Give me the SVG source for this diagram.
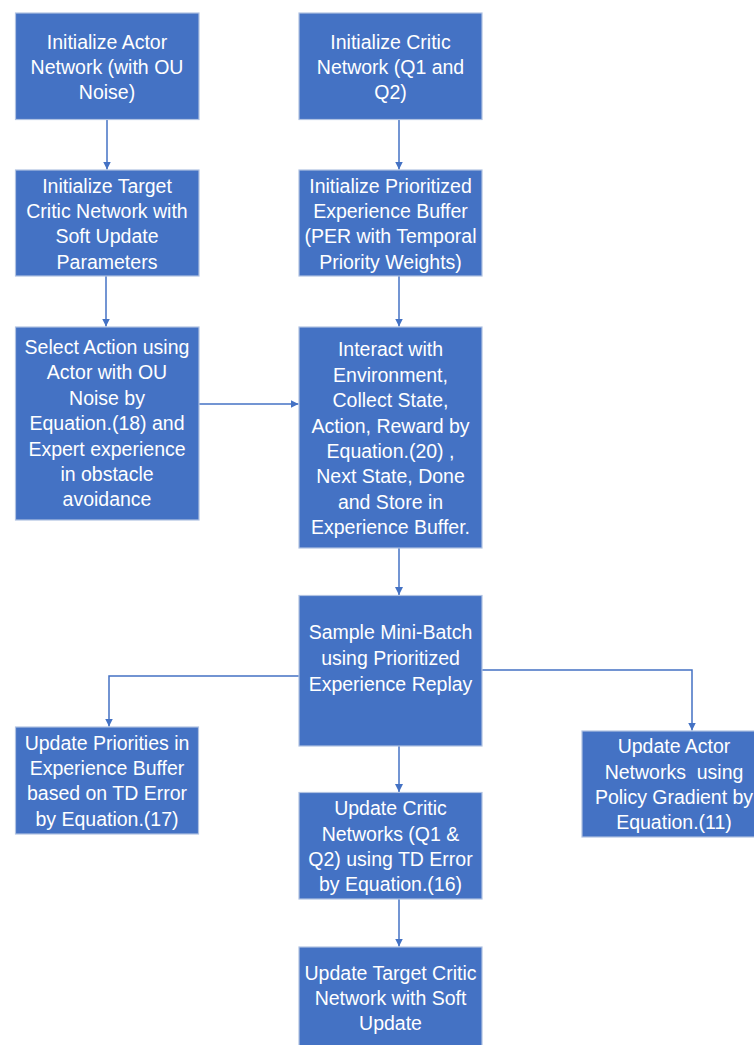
<svg xmlns="http://www.w3.org/2000/svg" width="754" height="1045" viewBox="0 0 754 1045">
<defs>
<style>
.box{fill:#4472C4;stroke:#B0C2E2;stroke-width:1.2}
.t{font-family:"Liberation Sans",Arial,sans-serif;font-size:19.5px;fill:#FFFFFF;text-anchor:middle}
.c{fill:none;stroke:#4472C4;stroke-width:1.5}
</style>
<marker id="ah" viewBox="0 0 10 10" refX="10" refY="5" markerWidth="8" markerHeight="8" markerUnits="userSpaceOnUse" orient="auto">
<path d="M0,0 L10,5 L0,10 z" fill="#4472C4"/>
</marker>
</defs>
<rect width="754" height="1045" fill="#FFFFFF"/>
<g id="connectors">
<line class="c" x1="107" y1="119.5" x2="107" y2="169.5" marker-end="url(#ah)"/>
<line class="c" x1="399" y1="119.5" x2="399" y2="169.5" marker-end="url(#ah)"/>
<line class="c" x1="106" y1="276" x2="106" y2="326.5" marker-end="url(#ah)"/>
<line class="c" x1="399" y1="276" x2="399" y2="326.5" marker-end="url(#ah)"/>
<line class="c" x1="199" y1="404" x2="298.5" y2="404" marker-end="url(#ah)"/>
<line class="c" x1="399" y1="548" x2="399" y2="595" marker-end="url(#ah)"/>
<polyline class="c" points="299,676 109,676 109,726.5" marker-end="url(#ah)"/>
<polyline class="c" points="482,670 692,670 692,730.5" marker-end="url(#ah)"/>
<line class="c" x1="399" y1="746" x2="399" y2="792" marker-end="url(#ah)"/>
<line class="c" x1="399" y1="899" x2="399" y2="946.5" marker-end="url(#ah)"/>
</g>
<g id="n1">
<rect class="box" x="15.5" y="13" width="183.5" height="106.5"/>
<text class="t"><tspan x="107" y="49">Initialize Actor</tspan><tspan x="107" y="74">Network (with OU</tspan><tspan x="107" y="99">Noise)</tspan></text>
</g>
<g id="n2">
<rect class="box" x="299" y="13" width="183" height="106.5"/>
<text class="t"><tspan x="390.5" y="49">Initialize Critic</tspan><tspan x="390.5" y="74">Network (Q1 and</tspan><tspan x="390.5" y="99">Q2)</tspan></text>
</g>
<g id="n3">
<rect class="box" x="15.5" y="170" width="183.5" height="106"/>
<text class="t"><tspan x="107" y="193">Initialize Target</tspan><tspan x="107" y="218">Critic Network with</tspan><tspan x="107" y="243">Soft Update</tspan><tspan x="107" y="269">Parameters</tspan></text>
</g>
<g id="n4">
<rect class="box" x="299" y="170" width="183" height="106"/>
<text class="t"><tspan x="390.5" y="193">Initialize Prioritized</tspan><tspan x="390.5" y="218">Experience Buffer</tspan><tspan x="390.5" y="243">(PER with Temporal</tspan><tspan x="390.5" y="269">Priority Weights)</tspan></text>
</g>
<g id="n5">
<rect class="box" x="15.5" y="327" width="183.5" height="193"/>
<text class="t"><tspan x="107" y="354">Select Action using</tspan><tspan x="107" y="379">Actor with OU</tspan><tspan x="107" y="405">Noise by</tspan><tspan x="107" y="430">Equation.(18) and</tspan><tspan x="107" y="456">Expert experience</tspan><tspan x="107" y="481">in obstacle</tspan><tspan x="107" y="506">avoidance</tspan></text>
</g>
<g id="n6">
<rect class="box" x="299" y="327" width="183" height="221"/>
<text class="t"><tspan x="390.5" y="356">Interact with</tspan><tspan x="390.5" y="382">Environment,</tspan><tspan x="390.5" y="407">Collect State,</tspan><tspan x="390.5" y="433">Action, Reward by</tspan><tspan x="390.5" y="458">Equation.(20) ,</tspan><tspan x="390.5" y="483">Next State, Done</tspan><tspan x="390.5" y="509">and Store in</tspan><tspan x="390.5" y="534">Experience Buffer.</tspan></text>
</g>
<g id="n7">
<rect class="box" x="299" y="595.5" width="183" height="150.5"/>
<text class="t"><tspan x="390.5" y="639">Sample Mini-Batch</tspan><tspan x="390.5" y="665">using Prioritized</tspan><tspan x="390.5" y="691">Experience Replay</tspan></text>
</g>
<g id="n8">
<rect class="box" x="15.5" y="727" width="183" height="107"/>
<text class="t"><tspan x="107" y="750">Update Priorities in</tspan><tspan x="107" y="775">Experience Buffer</tspan><tspan x="107" y="800">based on TD Error</tspan><tspan x="107" y="826">by Equation.(17)</tspan></text>
</g>
<g id="n9">
<rect class="box" x="299" y="792.5" width="183" height="106.5"/>
<text class="t"><tspan x="390.5" y="815">Update Critic</tspan><tspan x="390.5" y="841">Networks (Q1 &amp;</tspan><tspan x="390.5" y="866">Q2) using TD Error</tspan><tspan x="390.5" y="891">by Equation.(16)</tspan></text>
</g>
<g id="n10">
<rect class="box" x="582" y="731" width="184" height="106"/>
<text class="t" style="white-space:pre"><tspan x="674" y="753">Update Actor</tspan><tspan x="674" y="779">Networks  using</tspan><tspan x="674" y="804">Policy Gradient by</tspan><tspan x="674" y="829">Equation.(11)</tspan></text>
</g>
<g id="n11">
<rect class="box" x="299" y="947" width="183" height="110"/>
<text class="t"><tspan x="390.5" y="980">Update Target Critic</tspan><tspan x="390.5" y="1005">Network with Soft</tspan><tspan x="390.5" y="1030">Update</tspan></text>
</g>
</svg>
